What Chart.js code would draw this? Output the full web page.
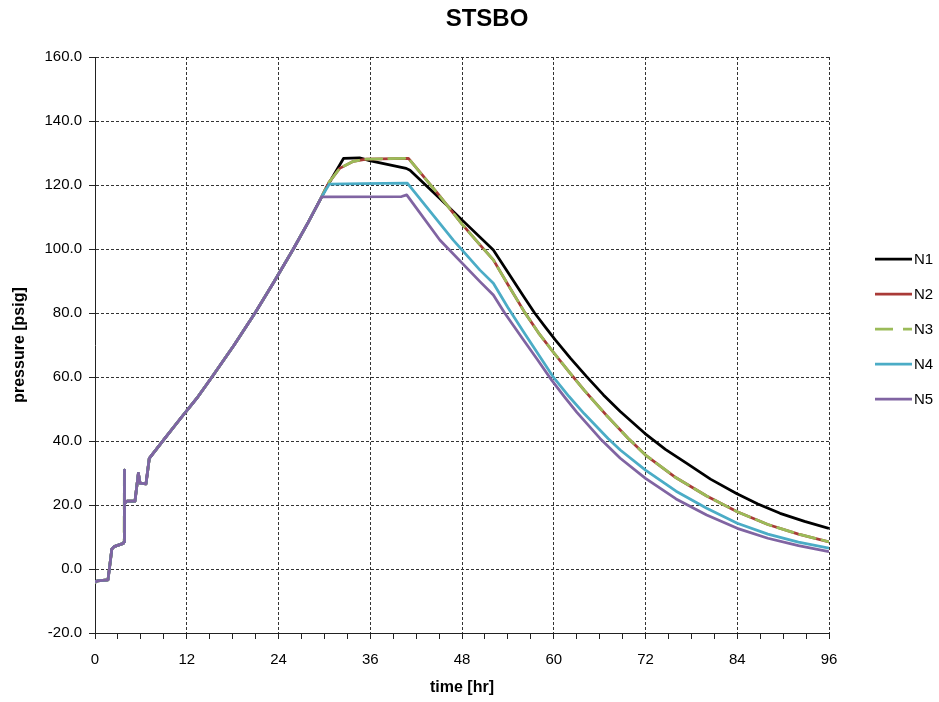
<!DOCTYPE html>
<html>
<head>
<meta charset="utf-8">
<title>STSBO</title>
<script src="https://cdn.jsdelivr.net/npm/chart.js@4.4.0/dist/chart.umd.min.js"></script>
<style>
  body { margin: 0; background: #fff; }
  #contenedor { width: 939px; height: 702px; }
</style>
</head>
<body>
<div id="contenedor"><canvas id="graficoPresion" width="939" height="702"></canvas></div>
<script>
// tramo común a las cinco series (0 - 29.65 h)
const tComun = [0, 0.3, 1.7, 2.2, 2.5, 3.7, 3.8, 3.84, 3.88, 4.2, 5.23, 5.67, 5.9, 6.67, 7.1, 9, 11.1, 13.3, 15.3, 18.2, 20.93, 23.4, 25.94, 27.9, 29.65];
const pComun = [-4.2, -3.7, -3.4, 6.2, 7.0, 8.0, 8.5, 30.9, 20.5, 21.2, 21.2, 29.9, 26.8, 26.6, 34.6, 40.4, 46.8, 53.3, 60.0, 70.0, 80.0, 89.7, 100.0, 108.4, 116.3];

// N1
const tN1 = [30.1, 32.5, 34.6, 35.9, 40.7, 41.2, 45, 48, 52.1, 54, 56, 57.5, 58.9, 60.2, 62.2, 64.3, 66.5, 68.7, 71.9, 74.6, 77.4, 80.5, 83.9, 86.7, 89.6, 92.8, 96];
const pN1 = [118.5, 128.3, 128.5, 127.6, 125.2, 124.6, 116.0, 109.1, 99.7, 92.7, 85.4, 80.0, 75.6, 71.6, 65.8, 60.1, 54.4, 49.2, 42.4, 37.4, 33.0, 28.1, 23.6, 20.3, 17.4, 14.9, 12.7];

// N2
const tN2 = [30.1, 30.6, 32, 33.8, 35.5, 41.0, 45, 48, 50.35, 52.1, 54, 56.2, 58, 59.9, 62, 64, 66.9, 69.75, 72, 76, 80, 84, 88, 92, 96];
const pN2 = [118.5, 120.8, 125.2, 127.4, 128.1, 128.3, 116.8, 107.8, 101.3, 96.6, 88.9, 80.2, 73.8, 67.9, 61.6, 55.8, 48.0, 40.8, 35.6, 28.5, 22.8, 17.9, 13.9, 10.9, 8.5];

// N3 (se superpone a N2)
const tN3 = [30.1, 30.6, 32, 33.8, 35.5, 41.0, 45, 48, 50.35, 52.1, 54, 56.2, 58, 59.9, 62, 64, 66.9, 69.75, 72, 76, 80, 84, 88, 92, 96];
const pN3 = [118.5, 120.8, 125.2, 127.4, 128.1, 128.3, 116.8, 107.8, 101.3, 96.6, 88.9, 80.2, 73.8, 67.9, 61.6, 55.8, 48.0, 40.8, 35.6, 28.5, 22.8, 17.9, 13.9, 10.9, 8.5];

// N4
const tN4 = [30.65, 35, 40.85, 46.86, 50.35, 52.1, 54, 56, 58, 60, 62, 64, 67.1, 68.7, 72, 76, 80, 84, 88, 92, 96];
const pN4 = [120.3, 120.4, 120.6, 102.8, 93.4, 89.3, 81.7, 74.3, 67.0, 59.8, 53.9, 48.5, 40.8, 37.2, 30.9, 24.3, 19.0, 14.3, 10.9, 8.4, 6.5];

// N5
const tN5 = [40.1, 40.77, 45.1, 50.35, 52.1, 53.6, 56, 57.9, 59.7, 61.4, 63, 66.05, 68.7, 72, 76, 80, 84, 88, 92, 96];
const pN5 = [116.4, 116.9, 102.8, 89.8, 85.6, 79.9, 71.7, 65.3, 59.1, 53.8, 49.0, 40.8, 34.6, 28.3, 21.9, 16.9, 12.7, 9.6, 7.3, 5.4];

const nombres = ['N1', 'N2', 'N3', 'N4', 'N5'];
const colores = ['#000000', '#A93A37', '#9BBB59', '#4BACC6', '#8064A2'];

const FUENTE = '"Liberation Sans", Arial, sans-serif';

function serie(t, p) {
  const xs = tComun.concat(t);
  const ys = pComun.concat(p);
  return xs.map((x, i) => ({ x: x, y: ys[i] }));
}

const series = [[tN1, pN1], [tN2, pN2], [tN3, pN3], [tN4, pN4], [tN5, pN5]];

const datasets = series.map((s, i) => ({
  label: nombres[i],
  data: serie(s[0], s[1]),
  borderColor: colores[i],
  backgroundColor: colores[i],
  borderWidth: 2.75,
  borderDash: i === 2 ? [16, 7] : [],
  borderCapStyle: i === 2 ? 'round' : 'butt',
  borderJoinStyle: 'round',
  pointRadius: 0,
  tension: 0,
  fill: false,
  order: 5 - i   // las últimas series quedan encima
}));

// título centrado como en el original
const tituloPlugin = {
  id: 'titulo',
  afterDraw(chart) {
    const ctx = chart.ctx;
    ctx.save();
    ctx.font = 'bold 24px ' + FUENTE;
    ctx.fillStyle = '#000';
    ctx.textAlign = 'center';
    ctx.textBaseline = 'alphabetic';
    ctx.fillText('STSBO', 487, 26);
    ctx.restore();
  }
};

// leyenda a la derecha
const leyendaPlugin = {
  id: 'leyenda',
  afterDraw(chart) {
    const ctx = chart.ctx;
    ctx.save();
    chart.data.datasets.forEach((ds, i) => {
      const y = 259 + i * 35;
      ctx.beginPath();
      ctx.strokeStyle = ds.borderColor;
      ctx.lineWidth = ds.borderWidth;
      ctx.lineCap = 'butt';
      ctx.setLineDash(ds.borderDash.length ? [18, 10] : []);
      ctx.moveTo(875, y);
      ctx.lineTo(912, y);
      ctx.stroke();
      ctx.setLineDash([]);
      ctx.fillStyle = '#000';
      ctx.font = '15px ' + FUENTE;
      ctx.textAlign = 'left';
      ctx.textBaseline = 'middle';
      ctx.fillText(ds.label, 914, y + 1);
    });
    ctx.restore();
  }
};

const ctx = document.getElementById('graficoPresion').getContext('2d');
new Chart(ctx, {
  type: 'line',
  data: { datasets: datasets },
  plugins: [tituloPlugin, leyendaPlugin],
  options: {
    responsive: false,
    animation: false,
    devicePixelRatio: 1,
    layout: { padding: { top: 57, right: 110, bottom: 0, left: 0 } },
    plugins: {
      legend: { display: false },
      title: { display: false },
      tooltip: { enabled: false }
    },
    scales: {
      x: {
        type: 'linear',
        min: 0,
        max: 96,
        afterFit: s => { s.height = 69; },
        border: { display: true, color: '#222', width: 1, dash: [3, 2] },
        grid: {
          color: c => (c.tick && c.tick.value % 12 === 0) ? '#333' : 'rgba(0,0,0,0)',
          lineWidth: 1,
          tickColor: '#222',
          tickLength: 6
        },
        ticks: {
          stepSize: 3,
          autoSkip: false,
          maxRotation: 0,
          padding: 12,
          color: '#000',
          font: { family: FUENTE, size: 15 },
          callback: v => (v % 12 === 0 ? String(v) : '')
        },
        title: {
          display: true,
          text: 'time [hr]',
          color: '#000',
          font: { family: FUENTE, size: 16, weight: 'bold' },
          padding: { top: 0, bottom: 5 }
        }
      },
      y: {
        min: -20,
        max: 160,
        afterFit: s => { s.width = 95; },
        border: { display: true, color: '#222', width: 1, dash: [3, 2] },
        grid: { color: '#333', lineWidth: 1, tickColor: '#222', tickLength: 6 },
        ticks: {
          stepSize: 20,
          padding: 7,
          color: '#000',
          font: { family: FUENTE, size: 15 },
          callback: v => v.toFixed(1)
        },
        title: {
          display: true,
          text: 'pressure [psig]',
          color: '#000',
          font: { family: FUENTE, size: 16, weight: 'bold' },
          padding: { top: 10, bottom: 0 }
        }
      }
    }
  }
});
</script>
</body>
</html>
